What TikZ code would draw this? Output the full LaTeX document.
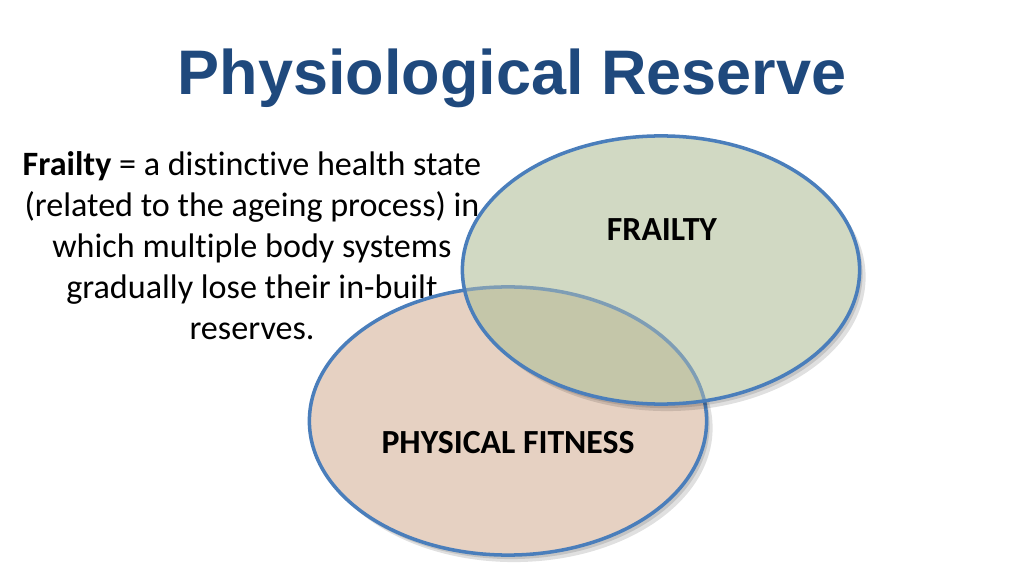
\documentclass[tikz,border=0pt]{standalone}
\usepackage{fontspec}
\setmainfont{Carlito}[Ligatures={NoCommon}]
\newfontfamily\titlefont{Liberation Sans}
\usetikzlibrary{shapes.geometric}
\definecolor{titleblue}{HTML}{1F497D}
\definecolor{rimblue}{HTML}{4A7EBB}
\definecolor{frfill}{HTML}{D1D9C3}
\definecolor{fitfill}{HTML}{E6D1C2}
\definecolor{ovfill}{HTML}{C4C6A9}
\definecolor{fadedrim}{HTML}{7E9DB5}
\begin{document}
\begin{tikzpicture}[x=0.01cm,y=-0.01cm,
  venn/.style={ellipse, minimum width=3.97cm, minimum height=2.68cm, inner sep=0pt},
  rim/.style={draw=rimblue, line width=1pt},
  shade/.style={fill=black, opacity=0.12},
  lbl/.style={font={\fontsize{9.6}{11}\selectfont\bfseries}, text=black, inner sep=0pt},
  er/.style={x radius=1.985cm, y radius=1.34cm}]
\useasboundingbox (0,0) rectangle (1024,576);
\fill[white] (0,0) rectangle (1024,576);
% title
\node[anchor=base, inner sep=0pt, text=titleblue, font={\fontsize{17.9}{20}\selectfont\titlefont\bfseries}] (title) at (512,95) {Physiological Reserve};
% paragraph
\node[anchor=north, inner sep=0pt, align=center, font={\fontsize{9.7}{11.66}\selectfont}] (para) at (252,151)
  {\textbf{Frailty} = a distinctive health state\\(related to the ageing process) in\\which multiple body systems\\gradually lose their in-built\\reserves.};
% fitness ellipse
\fill[shade] (514,428) ellipse [er];
\fill[shade] (511,425) ellipse [er];
\node[venn, fill=fitfill, rim] (fit) at (508,421) {};
% frailty ellipse
\fill[shade] (667,277) ellipse [er];
\fill[shade] (664,274) ellipse [er];
\node[venn, fill=frfill] (fr) at (661,270) {};
\begin{scope}
  \clip (fit.center) ellipse [er];
  \fill[ovfill] (fr.center) ellipse [er];
\end{scope}
\begin{scope}
  \clip (fr.center) ellipse [er];
  \draw[draw=fadedrim, line width=1pt] (fit.center) ellipse [er];
\end{scope}
\draw[rim] (fr.center) ellipse [er];
% labels
\node[lbl] (frl) at (662,230) {FRAILTY};
\node[lbl] (pfl) at (508,443) {PHYSICAL FITNESS};
\end{tikzpicture}
\end{document}
